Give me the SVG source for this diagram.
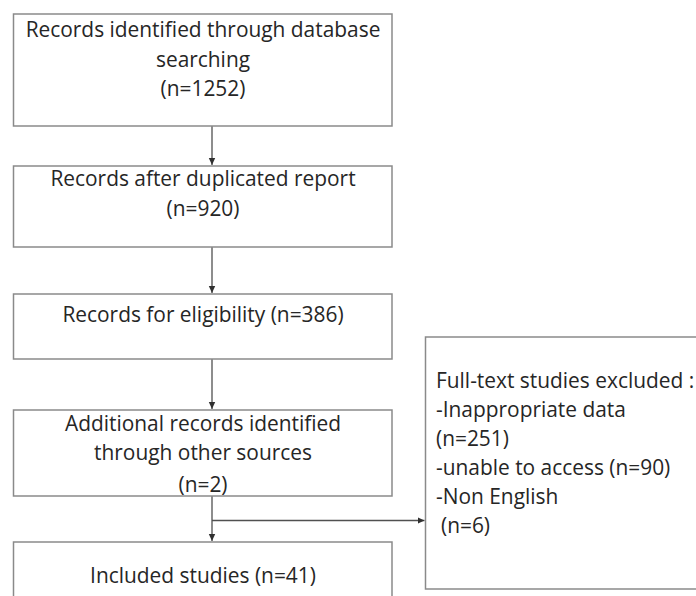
<svg xmlns="http://www.w3.org/2000/svg" width="696" height="596" viewBox="0 0 696 596">
<defs>
<style>
.box{fill:#ffffff;stroke:#8a8a8a;stroke-width:1.5}
.t{font-family:"Open Sans","Noto Sans","Liberation Sans",sans-serif;font-size:20.9px;fill:#262626}
.c{text-anchor:middle}
.conn{stroke:#505050;stroke-width:1.3;fill:none}
</style>
<marker id="ah" markerWidth="8" markerHeight="8" refX="7" refY="4" orient="auto" markerUnits="userSpaceOnUse">
<path d="M0,0.8 L7,4 L0,7.2 Z" fill="#303030"/>
</marker>
</defs>
<rect width="696" height="596" fill="#ffffff"/>
<g id="connectors">
<line class="conn" x1="212" y1="126" x2="212" y2="165" marker-end="url(#ah)"/>
<line class="conn" x1="212" y1="247" x2="212" y2="293" marker-end="url(#ah)"/>
<line class="conn" x1="212" y1="359" x2="212" y2="409" marker-end="url(#ah)"/>
<line class="conn" x1="212" y1="496" x2="212" y2="541" marker-end="url(#ah)"/>
<line class="conn" x1="212" y1="520.5" x2="424.5" y2="520.5" marker-end="url(#ah)"/>
</g>
<g id="n1">
<rect class="box" x="13.5" y="14" width="378.5" height="112"/>
<text class="t c" x="203" y="37">Records identified through database</text>
<text class="t c" x="203" y="67">searching</text>
<text class="t c" x="203" y="96">(n=1252)</text>
</g>
<g id="n2">
<rect class="box" x="13.5" y="166" width="378.5" height="81"/>
<text class="t c" x="203" y="186">Records after duplicated report</text>
<text class="t c" x="203" y="216">(n=920)</text>
</g>
<g id="n3">
<rect class="box" x="13.5" y="294" width="378.5" height="65"/>
<text class="t c" x="203" y="322">Records for eligibility (n=386)</text>
</g>
<g id="n4">
<rect class="box" x="13.5" y="410" width="378.5" height="86"/>
<text class="t c" x="203" y="431">Additional records identified</text>
<text class="t c" x="203" y="460">through other sources</text>
<text class="t c" x="203" y="492">(n=2)</text>
</g>
<g id="n5">
<rect class="box" x="13.5" y="542" width="378.5" height="70"/>
<text class="t c" x="203" y="583">Included studies (n=41)</text>
</g>
<g id="n6">
<rect class="box" x="425.5" y="337" width="290" height="252"/>
<text class="t" x="436" y="388">Full-text studies excluded :</text>
<text class="t" x="436" y="417">-Inappropriate data</text>
<text class="t" x="436" y="446">(n=251)</text>
<text class="t" x="436" y="475">-unable to access (n=90)</text>
<text class="t" x="436" y="504">-Non English</text>
<text class="t" x="441" y="533">(n=6)</text>
</g>
</svg>
